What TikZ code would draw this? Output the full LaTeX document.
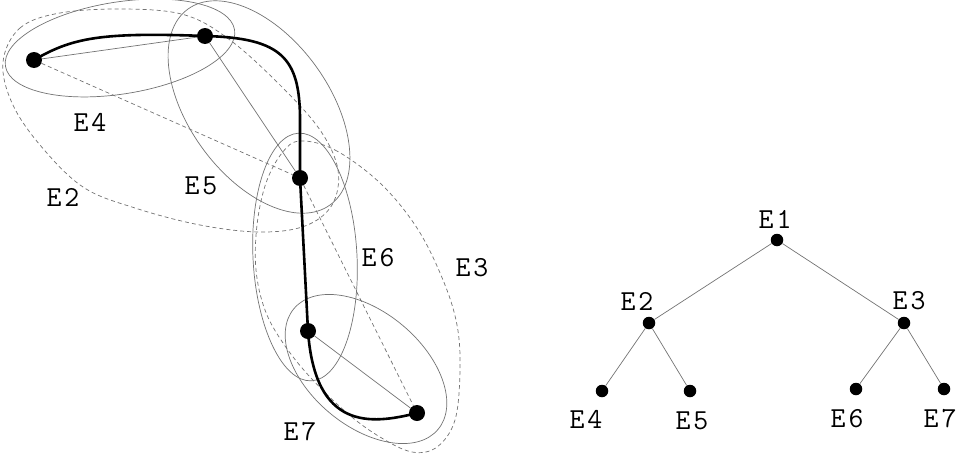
\documentclass[tikz,border=0pt]{standalone}
\usetikzlibrary{backgrounds}
\begin{document}
\begin{tikzpicture}[x=1pt,y=-1pt,
  vtx/.style={circle,fill=black,inner sep=0pt,minimum size=16pt},
  tvtx/.style={circle,fill=black,inner sep=0pt,minimum size=12.5pt},
  lab/.style={font=\fontsize{29}{29}\selectfont\ttfamily,inner sep=0pt},
  thinln/.style={draw=black!55,line width=0.7pt},
  dashln/.style={thinln,dash pattern=on 4pt off 3pt},
  pathln/.style={draw=black,line width=2.6pt},
  hyp/.style={draw=black!55,line width=0.7pt},
  hypd/.style={hyp,dash pattern=on 4pt off 3pt}]
\useasboundingbox (0,0) rectangle (957,455);

% vertices of the hypergraph
\node[vtx] (P1) at (34,60) {};
\node[vtx] (P2) at (205,36) {};
\node[vtx] (P3) at (300,178) {};
\node[vtx] (P4) at (308,331) {};
\node[vtx] (P5) at (417,413) {};

\begin{scope}[on background layer]
  % hyperedges
  \draw[hyp,shift={(120,48)},rotate=9] (0,0) ellipse [x radius=116pt,y radius=46pt];
  \draw[hyp,shift={(259,107)},rotate=-54] (0,0) ellipse [x radius=121pt,y radius=70pt];
  \draw[hyp,shift={(305,257)},rotate=3] (0,0) ellipse [x radius=52pt,y radius=124pt];
  \draw[hyp,shift={(366,369)},rotate=-40] (0,0) ellipse [x radius=94pt,y radius=57pt];
  \draw[hypd] plot[smooth cycle,tension=0.6] coordinates {
    (3,62) (20,28) (60,13) (125,9) (185,15) (230,40) (280,85) (320,130)
    (338,170) (332,205) (305,226) (260,232) (200,225) (135,208) (83,187)
    (40,145) (12,103)};
  \draw[hypd] plot[smooth cycle,tension=0.6] coordinates {
    (300,141) (335,150) (380,183) (417,228) (443,280) (457,325) (460,370)
    (455,420) (437,447) (412,452) (380,437) (347,413) (310,377) (283,343)
    (265,310) (256,270) (257,225) (266,183) (282,153)};
  % edges
  \draw[thinln] (P1) -- (P2);
  \draw[thinln] (P2) -- (P3);
  \draw[thinln] (P4) -- (P5);
  \draw[dashln] (P1) -- (P3);
  \draw[dashln] (P3) -- (P5);
  % path
  \draw[pathln] (P1.center) .. controls (72,38) and (100,32) .. (P2.center)
     .. controls (282,38) and (300,58) .. (300,120) -- (P3.center) -- (P4.center)
     .. controls (315,430) and (370,425) .. (P5.center);
\end{scope}

% labels of hyperedges
\node[lab] (L4) at (90,122) {E\kern3pt 4};
\node[lab] (L2) at (63,197) {E\kern3pt 2};
\node[lab] (L5) at (201,186) {E\kern3pt 5};
\node[lab] (L6) at (378,258) {E\kern3pt 6};
\node[lab] (L3) at (472,268) {E\kern3pt 3};
\node[lab] (L7) at (300,432) {E\kern3pt 7};

% tree
\node[tvtx] (T1) at (777,240) {};
\node[tvtx] (T2) at (649,323) {};
\node[tvtx] (T3) at (904,323) {};
\node[tvtx] (T4) at (602,391) {};
\node[tvtx] (T5) at (690,391) {};
\node[tvtx] (T6) at (856,389) {};
\node[tvtx] (T7) at (944,389) {};
\begin{scope}[on background layer]
  \draw[thinln] (T1) -- (T2);
  \draw[thinln] (T1) -- (T3);
  \draw[thinln] (T2) -- (T4);
  \draw[thinln] (T2) -- (T5);
  \draw[thinln] (T3) -- (T6);
  \draw[thinln] (T3) -- (T7);
\end{scope}
\node[lab] (N1) at (775,219) {E\kern3pt 1};
\node[lab] (N2) at (637,301) {E\kern3pt 2};
\node[lab] (N3) at (909,301) {E\kern3pt 3};
\node[lab] (N4) at (586,419) {E\kern3pt 4};
\node[lab] (N5) at (692,421) {E\kern3pt 5};
\node[lab] (N6) at (847,419) {E\kern3pt 6};
\node[lab] (N7) at (940,419) {E\kern3pt 7};
\end{tikzpicture}
\end{document}
